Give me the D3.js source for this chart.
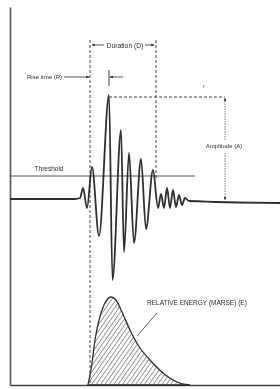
<!DOCTYPE html>
<html>
<head>
<meta charset="utf-8">
<script src="https://cdn.jsdelivr.net/npm/d3@7"></script>
<style>
  body { margin: 0; background: #fff; }
  svg { display: block; will-change: transform; }
  text { font-family: "Liberation Sans Narrow", "Liberation Sans", sans-serif; fill: #2a2a2a; }
</style>
</head>
<body>
<div id="chart"></div>
<script>
// AE hit waveform: time units along x, signal amplitude (baseline = 0) along y
var waveTime = [0, 65, 70, 73, 77, 82, 89, 99, 102.5, 111, 114, 119, 124, 131, 136, 143, 148, 151, 154, 157, 160, 163, 166, 169, 172, 175, 179, 270];
var waveAmp  = [0, 0, 1, 11, -9, 32, -37, 104, -81, 69, -53, 46, -44, 40, -30, 29, -9, 5, -9, 11, -9, 9, -8, 4, -6, 1, -2, -4];

// relative energy (MARSE) envelope
var energyTime = [78, 82, 85, 89, 94, 101, 106, 112, 120, 128, 140, 153, 167, 180];
var energyVal  = [0, 22, 45, 65, 80, 88, 85, 73, 55, 40, 25, 12, 3, 0];

// feature markers (same time / amplitude units)
var thresholdAmp = 23;
var hitStart = 80, hitEnd = 146, peakTime = 99, peakAmp = 102, ampMarkTime = 215;
var labels = ["Duration (D)", "Rise time (R)", "Threshold", "Amplitude (A)", "RELATIVE ENERGY (MARSE) (E)"];

var width = 280, height = 389;
var svg = d3.select("#chart").append("svg")
            .attr("width", width)
            .attr("height", height);

var x = d3.scaleLinear().domain([0, 270]).range([10, 280]);
var y = d3.scaleLinear().domain([0, 100]).range([199, 99]);
var yE = d3.scaleLinear().domain([0, 100]).range([385, 285]);

var ink = "#2e2e2e";

var defs = svg.append("defs");
defs.append("pattern")
    .attr("id", "hatch")
    .attr("patternUnits", "userSpaceOnUse")
    .attr("width", 3.6).attr("height", 4)
    .attr("patternTransform", "rotate(35)")
    .append("line")
    .attr("x1", 0).attr("y1", 0).attr("x2", 0).attr("y2", 4)
    .attr("stroke", "#333").attr("stroke-width", 1);
defs.append("marker")
    .attr("id", "arrow")
    .attr("viewBox", "0 0 10 10")
    .attr("refX", 9).attr("refY", 5)
    .attr("markerWidth", 4).attr("markerHeight", 4)
    .attr("orient", "auto-start-reverse")
    .append("path")
    .attr("d", "M0,1L10,5L0,9Z")
    .attr("fill", ink);

// axes (just the frame lines)
svg.append("g")
   .attr("transform", "translate(10,0)")
   .call(d3.axisLeft(d3.scaleLinear().range([7, 385])).ticks(0).tickSizeOuter(0))
   .select(".domain").attr("stroke", "#555").attr("stroke-width", 1.6);
svg.append("g")
   .attr("transform", "translate(0,385)")
   .call(d3.axisBottom(x).ticks(0).tickSizeOuter(0))
   .select(".domain").attr("stroke", "#444").attr("stroke-width", 1.6);

// energy area
var energy = energyTime.map(function(t, i){ return {t: t, e: energyVal[i]}; });
svg.append("path")
   .datum(energy)
   .attr("d", d3.area().x(function(d){ return x(d.t); }).y0(yE(0)).y1(function(d){ return yE(d.e); }).curve(d3.curveMonotoneX))
   .attr("fill", "url(#hatch)")
   .attr("stroke", ink)
   .attr("stroke-width", 1.3);

// threshold
svg.append("line")
   .attr("x1", x(0)).attr("x2", x(185))
   .attr("y1", y(thresholdAmp)).attr("y2", y(thresholdAmp))
   .attr("stroke", "#555").attr("stroke-width", 1);
svg.append("text")
   .attr("x", 49).attr("y", y(thresholdAmp) - 5)
   .attr("text-anchor", "middle").attr("font-size", "6.5px")
   .text(labels[2]);

// dashed duration bounds
svg.append("line")
   .attr("x1", x(hitStart)).attr("x2", x(hitStart))
   .attr("y1", 40).attr("y2", 385)
   .attr("stroke", "#444").attr("stroke-width", 1).attr("stroke-dasharray", "3,2");
svg.append("line")
   .attr("x1", x(hitEnd)).attr("x2", x(hitEnd))
   .attr("y1", 40).attr("y2", y(thresholdAmp) + 3)
   .attr("stroke", "#444").attr("stroke-width", 1).attr("stroke-dasharray", "3,2");

// waveform
var wave = waveTime.map(function(t, i){ return {t: t, a: waveAmp[i]}; });
svg.append("path")
   .datum(wave)
   .attr("d", d3.line().x(function(d){ return x(d.t); }).y(function(d){ return y(d.a); }).curve(d3.curveMonotoneX))
   .attr("fill", "none")
   .attr("stroke", ink)
   .attr("stroke-width", 1.8);

// duration label
svg.append("line")
   .attr("x1", x(hitStart) + 14).attr("x2", x(hitStart) + 2)
   .attr("y1", 45).attr("y2", 45)
   .attr("stroke", ink).attr("stroke-width", 0.8).attr("marker-end", "url(#arrow)");
svg.append("line")
   .attr("x1", x(hitEnd) - 11).attr("x2", x(hitEnd) - 2)
   .attr("y1", 45).attr("y2", 45)
   .attr("stroke", ink).attr("stroke-width", 0.8).attr("marker-end", "url(#arrow)");
svg.append("text")
   .attr("x", (x(hitStart) + x(hitEnd)) / 2 + 2).attr("y", 47.5)
   .attr("text-anchor", "middle").attr("font-size", "6.8px")
   .text(labels[0]);

// rise time label
svg.append("text")
   .attr("x", 62).attr("y", 79)
   .attr("text-anchor", "end").attr("font-size", "6px")
   .text(labels[1]);
svg.append("line")
   .attr("x1", 64).attr("x2", x(hitStart) - 1)
   .attr("y1", 77).attr("y2", 77)
   .attr("stroke", ink).attr("stroke-width", 0.8).attr("marker-end", "url(#arrow)");
svg.append("line")
   .attr("x1", x(peakTime)).attr("x2", x(peakTime))
   .attr("y1", 70).attr("y2", 86)
   .attr("stroke", ink).attr("stroke-width", 0.9);
svg.append("line")
   .attr("x1", x(peakTime) + 14).attr("x2", x(peakTime) + 1)
   .attr("y1", 77).attr("y2", 77)
   .attr("stroke", ink).attr("stroke-width", 0.8).attr("marker-end", "url(#arrow)");

// amplitude marker
svg.append("line")
   .attr("x1", x(peakTime)).attr("x2", x(ampMarkTime))
   .attr("y1", y(peakAmp)).attr("y2", y(peakAmp))
   .attr("stroke", "#444").attr("stroke-width", 1).attr("stroke-dasharray", "3,2");
svg.append("line")
   .attr("x1", x(ampMarkTime)).attr("x2", x(ampMarkTime))
   .attr("y1", 140).attr("y2", y(peakAmp) + 1)
   .attr("stroke", "#555").attr("stroke-width", 0.8).attr("stroke-dasharray", "1.5,1")
   .attr("marker-end", "url(#arrow)");
svg.append("line")
   .attr("x1", x(ampMarkTime)).attr("x2", x(ampMarkTime))
   .attr("y1", 153).attr("y2", y(-2) - 1)
   .attr("stroke", "#555").attr("stroke-width", 0.8).attr("stroke-dasharray", "1.5,1")
   .attr("marker-end", "url(#arrow)");
svg.append("text")
   .attr("x", x(ampMarkTime) - 1).attr("y", 148)
   .attr("text-anchor", "middle").attr("font-size", "6px")
   .text(labels[3]);
svg.append("text")
   .attr("x", 204).attr("y", 88)
   .attr("text-anchor", "middle").attr("font-size", "5px")
   .text("r");

// energy label
svg.append("text")
   .attr("x", 147).attr("y", 305)
   .attr("font-size", "6.5px")
   .text(labels[4]);
svg.append("line")
   .attr("x1", 157).attr("y1", 313)
   .attr("x2", 137).attr("y2", 336)
   .attr("stroke", ink).attr("stroke-width", 0.8);
</script>
</body>
</html>
